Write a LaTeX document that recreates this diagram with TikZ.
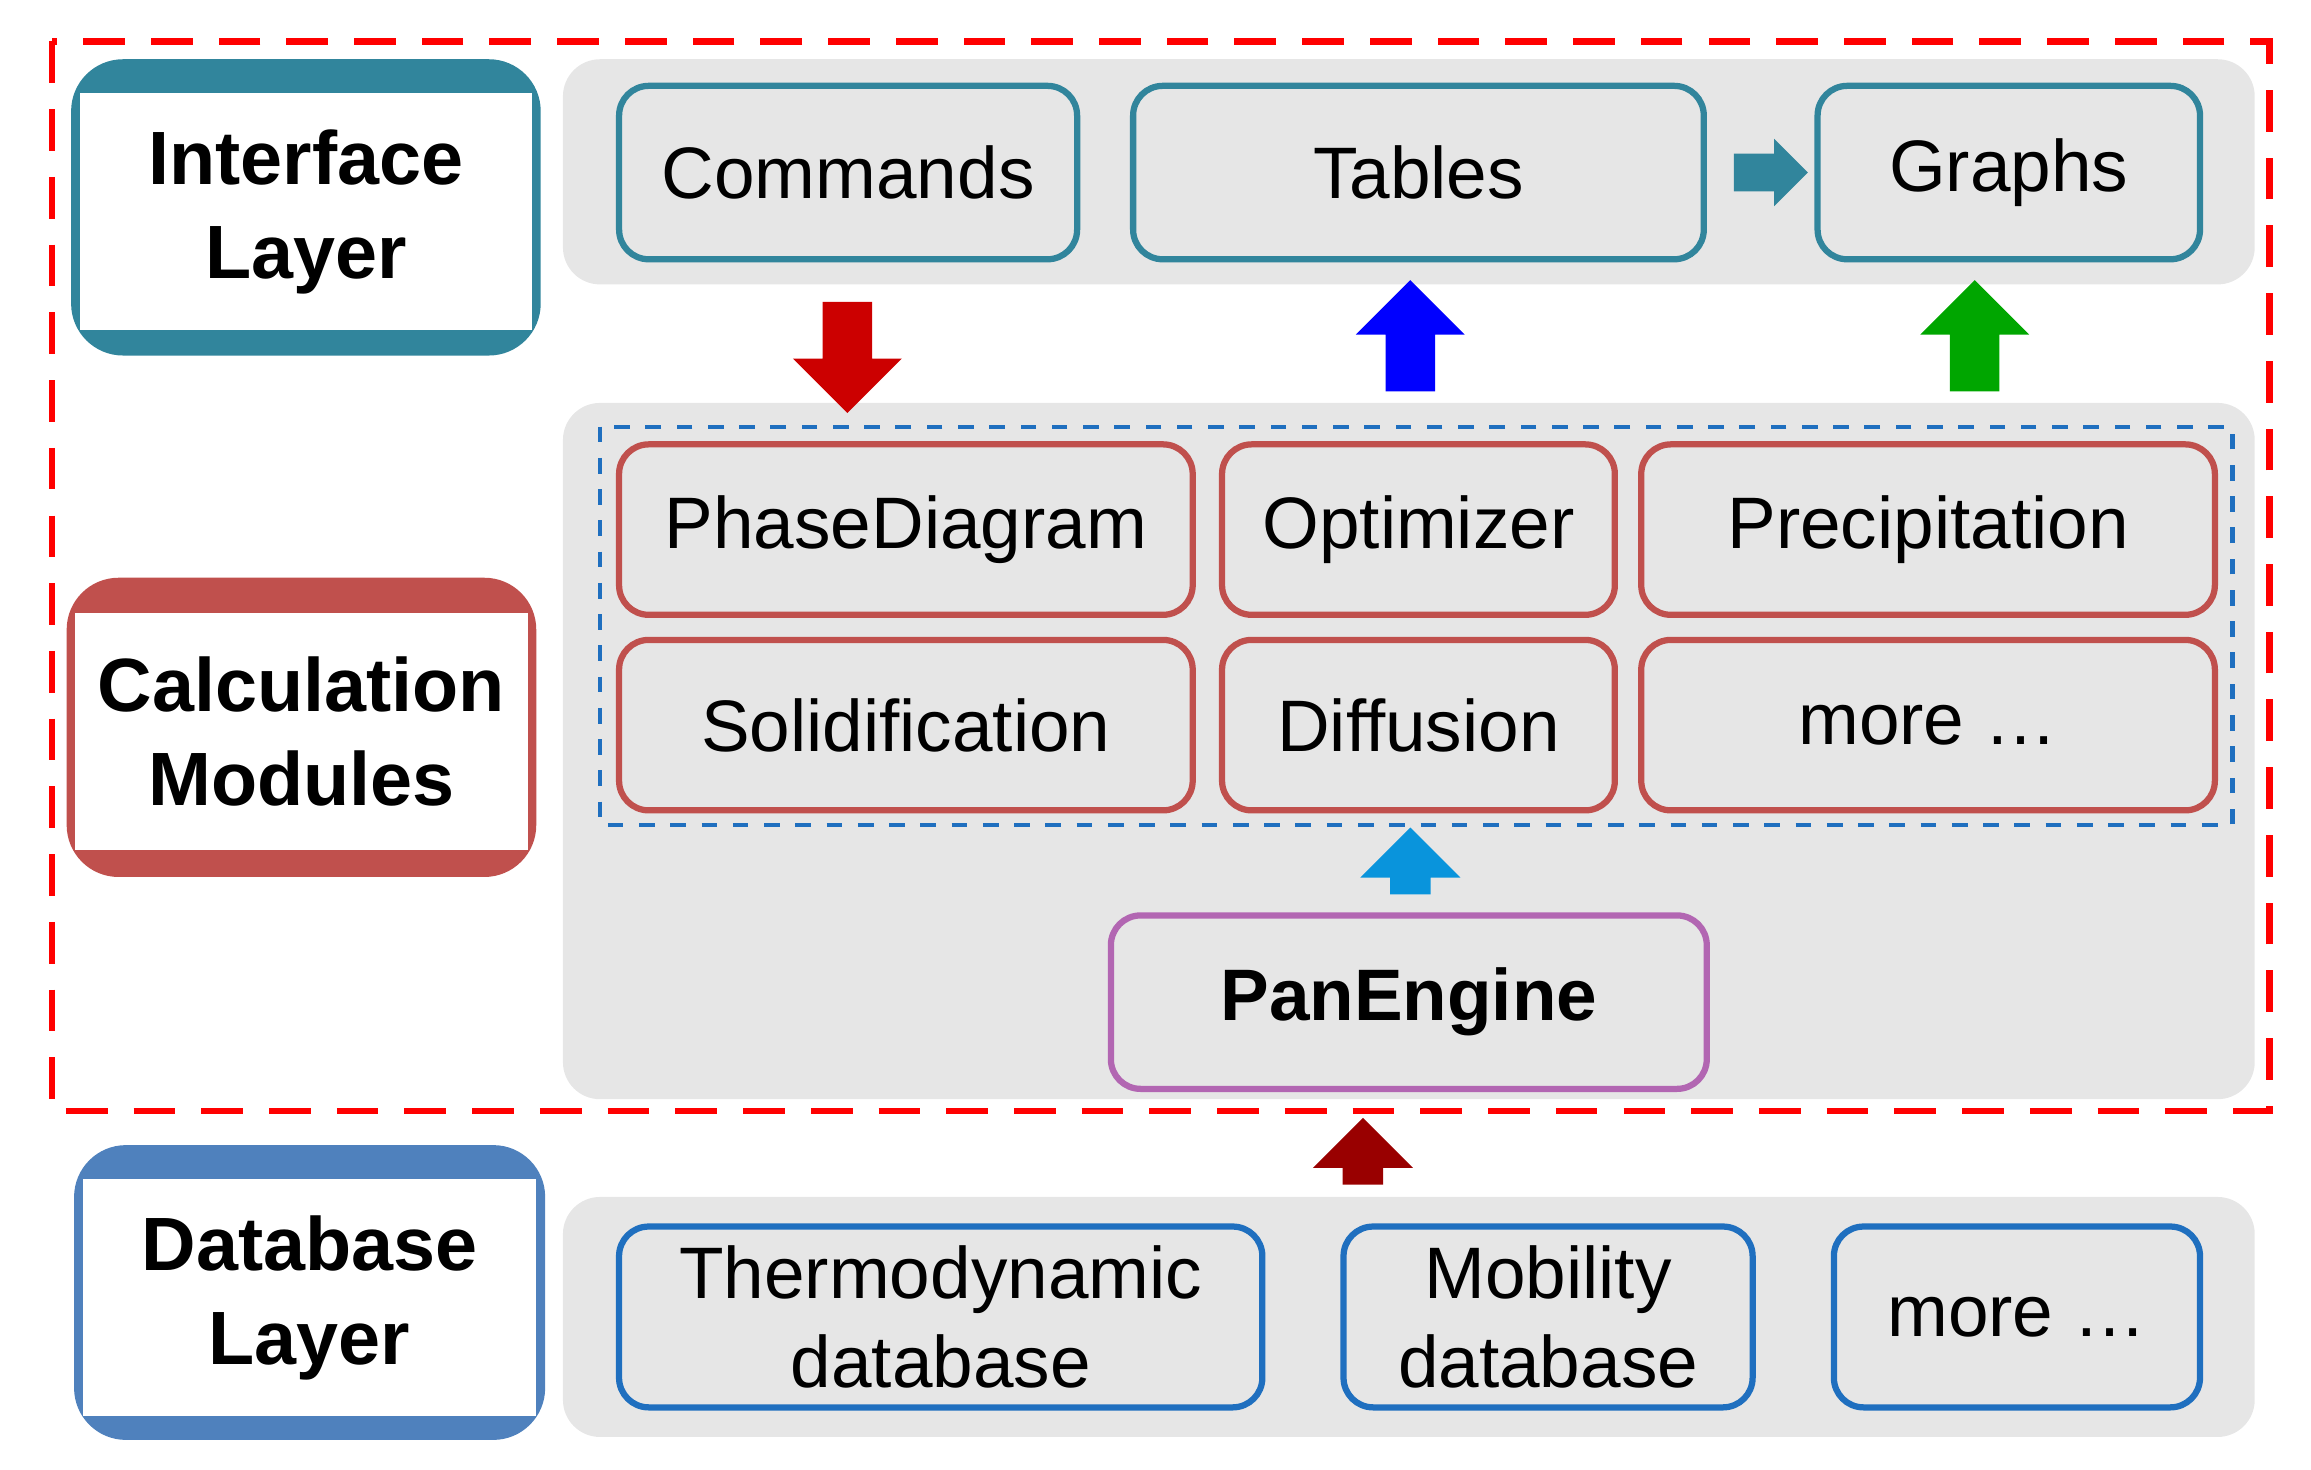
\documentclass[tikz,border=0pt]{standalone}
\usepackage{fontspec}
\setmainfont{Liberation Sans}
\usetikzlibrary{shapes,arrows}
\definecolor{teal}{HTML}{31859C}
\definecolor{calc}{HTML}{C0504D}
\definecolor{dbase}{HTML}{4F81BD}
\definecolor{dbbox}{HTML}{1F6FBF}
\definecolor{panel}{HTML}{E6E6E6}
\tikzstyle{panelbox} = [fill=panel, rounded corners=0.25cm]
\tikzstyle{block} = [rectangle, draw, very thick, rounded corners=0.2cm, align=center, font=\fontsize{14}{14}\selectfont, inner sep=0pt]
\tikzstyle{layer} = [rectangle, fill=white, align=center, font=\fontsize{14.5}{18}\selectfont\bfseries, inner sep=0pt]
\tikzstyle{bigarrow} = [single arrow, draw=none, minimum height=0.75cm, inner sep=0.16cm, single arrow head extend=0.2cm]
\begin{document}
\begin{tikzpicture}[x=0.01cm, y=-0.01cm]
\useasboundingbox (0,0) rectangle (1560,992);

% panels
\fill [panelbox] (380,40) rectangle (1522,192);
\fill [panelbox] (380,272) rectangle (1522,742);
\fill [panelbox] (380,808) rectangle (1522,970);
\draw [red, very thick, dash pattern=on 8pt off 5pt] (35,28) rectangle (1532,750);

% layer labels
\fill [teal, rounded corners=0.35cm] (48,40) rectangle (365,240);
\node [layer, minimum width=3.05cm, minimum height=1.6cm] at (206.5,143) (interface) {Interface\\Layer};
\fill [calc, rounded corners=0.35cm] (45,390) rectangle (362,592);
\node [layer, minimum width=3.05cm, minimum height=1.6cm] at (203.5,494) (calcmod) {Calculation\\Modules};
\fill [dbase, rounded corners=0.35cm] (50,773) rectangle (368,972);
\node [layer, minimum width=3.06cm, minimum height=1.6cm] at (209,876) (database) {Database\\Layer};

% interface layer
\node [block, draw=teal, minimum width=3.09cm, minimum height=1.17cm] at (572.5,116.5) (commands) {Commands};
\node [block, draw=teal, minimum width=3.85cm, minimum height=1.17cm] at (957.5,116.5) (tables) {Tables};
\node [block, draw=teal, minimum width=2.58cm, minimum height=1.17cm] at (1356,116.5) (graphs) {Graphs};
\node [bigarrow, fill=teal, minimum height=0.5cm, inner sep=0.12cm, single arrow head extend=0.1cm] at (1189,116.5) (tograph) {};

\node [bigarrow, fill=red!80!black, shape border rotate=270] at (572,233) (down) {};
\node [bigarrow, fill=blue, shape border rotate=90] at (952,235) (uptab) {};
\node [bigarrow, fill=green!65!black, shape border rotate=90] at (1333,235) (upgraph) {};

% calculation modules
\draw [dbbox, thick, dashed] (405,288) rectangle (1507,557);
\node [block, draw=calc, minimum width=3.87cm, minimum height=1.15cm] at (611.5,357.5) (phase) {PhaseDiagram};
\node [block, draw=calc, minimum width=2.65cm, minimum height=1.15cm] at (957.5,357.5) (optim) {Optimizer};
\node [block, draw=calc, minimum width=3.87cm, minimum height=1.15cm] at (1301.5,357.5) (precip) {Precipitation};
\node [block, draw=calc, minimum width=3.87cm, minimum height=1.15cm] at (611.5,489.5) (solid) {Solidification};
\node [block, draw=calc, minimum width=2.65cm, minimum height=1.15cm] at (957.5,489.5) (diff) {Diffusion};
\node [block, draw=calc, minimum width=3.87cm, minimum height=1.15cm] at (1301.5,489.5) (more) {more \dots};

\node [bigarrow, fill=cyan!80!blue, shape border rotate=90, minimum height=0.45cm, inner sep=0.13cm] at (952,588) (upeng) {};
\node [block, draw=violet!60, minimum width=4.02cm, minimum height=1.17cm, font=\fontsize{14}{14}\selectfont\bfseries] at (951,676.5) (engine) {PanEngine};

% database layer
\node [bigarrow, fill=red!60!black, shape border rotate=90, minimum height=0.45cm, inner sep=0.13cm] at (920,784) (updb) {};
\node [block, draw=dbbox, minimum width=4.34cm, minimum height=1.22cm, font=\fontsize{14}{17}\selectfont] at (635,889) (thermo) {Thermodynamic\\database};
\node [block, draw=dbbox, minimum width=2.76cm, minimum height=1.22cm, font=\fontsize{14}{17}\selectfont] at (1045,889) (mobil) {Mobility\\database};
\node [block, draw=dbbox, minimum width=2.47cm, minimum height=1.22cm] at (1361.5,889) (moredb) {more \dots};

\end{tikzpicture}
\end{document}
